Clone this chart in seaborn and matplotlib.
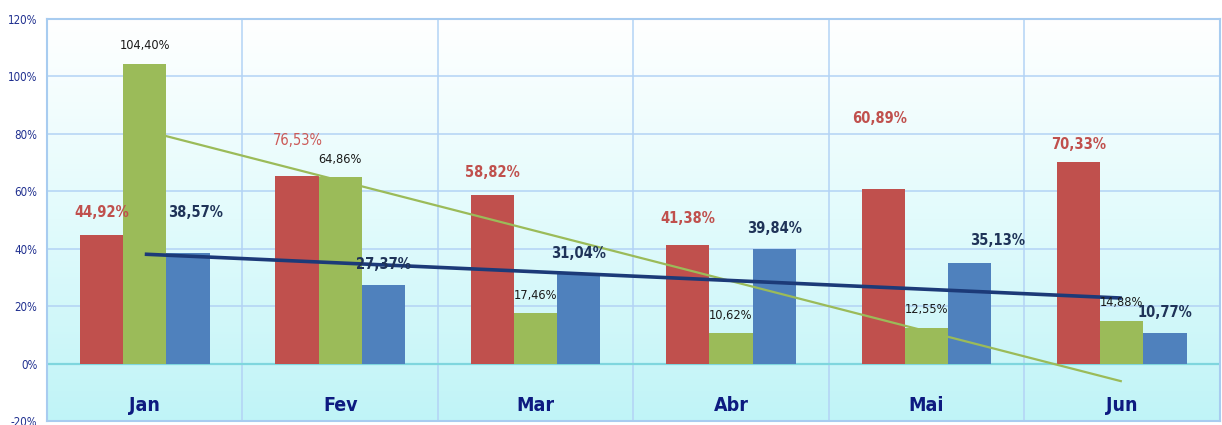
import numpy as np
import pandas as pd
import matplotlib
matplotlib.use("Agg")
import matplotlib.pyplot as plt
from matplotlib import font_manager as fm
from matplotlib.colors import LinearSegmentedColormap
import seaborn as sns

# Dados
months      = ["Jan", "Fev", "Mar", "Abr", "Mai", "Jun"]
series      = ["Vermelho", "Verde", "Azul"]
red_vals    = [44.92, 65.3, 58.82, 41.38, 60.89, 70.33]
green_vals  = [104.40, 64.86, 17.46, 10.62, 12.55, 14.88]
blue_vals   = [38.57, 27.37, 31.04, 39.84, 35.13, 10.77]
red_labels   = ["44,92%", "76,53%", "58,82%", "41,38%", "60,89%", "70,33%"]
green_labels = ["104,40%", "64,86%", "17,46%", "10,62%", "12,55%", "14,88%"]
blue_labels  = ["38,57%", "27,37%", "31,04%", "39,84%", "35,13%", "10,77%"]
y_ticks     = [-20, 0, 20, 40, 60, 80, 100, 120]

# Layout (deslocamentos dos rótulos em pixels)
RED_OFF   = [(0, 22), (1, 36), (0, 22), (0, 26), (-4, 70), (0, 17)]
GREEN_OFF = [(0, 18)] * 6
BLUE_OFF  = [(7, 40), (0, 20), (0, 21), (0, 21), (28, 22), (0, 20)]

COLORS = {"Vermelho": "#c0504d", "Verde": "#9bbb59", "Azul": "#4f81bd"}

# fonte estreita, se houver
names = {f.name for f in fm.fontManager.ttflist}
if "Liberation Sans Narrow" in names:
    plt.rcParams["font.family"] = ["Liberation Sans Narrow", "DejaVu Sans"]
else:
    plt.rcParams["font.family"] = ["DejaVu Sans"]
    plt.rcParams["font.stretch"] = "condensed"

df = pd.DataFrame({
    "mes":   months * 3,
    "serie": np.repeat(series, len(months)),
    "valor": red_vals + green_vals + blue_vals,
})

fig = plt.figure(figsize=(12.22, 4.25), dpi=100)
ax = fig.add_axes([0.0385, 0.0094, 0.9595, 0.9459])

# fundo em degradê
cmap = LinearSegmentedColormap.from_list("bg", ["#c0f4f7", "#e2fbfc", "#ffffff"])
grad = np.linspace(0, 1, 256).reshape(-1, 1)
ax.imshow(grad, extent=[-0.5, 5.5, -20, 120], origin="lower", aspect="auto",
          cmap=cmap, zorder=-2)

sns.barplot(data=df, x="mes", y="valor", hue="serie", palette=COLORS,
            width=0.664, saturation=1, linewidth=0, legend=False, ax=ax, zorder=2)

# linhas de tendência
xs = np.arange(len(months))
for vals, col, lw in [(green_vals, "#9bbb59", 1.6), (blue_vals, "#1c3a78", 2.6)]:
    k, b = np.polyfit(xs, vals, 1)
    ax.plot(xs, k * xs + b, color=col, lw=lw, zorder=3, solid_capstyle="butt")

# rótulos
label_sets = [
    (red_labels,   RED_OFF,   dict(color="#c0504d", fontsize=10.5, fontweight="bold")),
    (green_labels, GREEN_OFF, dict(color="#1a1a1a", fontsize=9.2)),
    (blue_labels,  BLUE_OFF,  dict(color="#1f3358", fontsize=10.5, fontweight="bold")),
]
for cont, (labels, offs, style) in zip(ax.containers, label_sets):
    for bar, lab, (dx, dy) in zip(cont, labels, offs):
        st = dict(style)
        if lab == "76,53%":
            st["fontweight"] = "normal"
            st["color"] = "#cc5a58"
        ax.annotate(lab, (bar.get_x() + bar.get_width() / 2, bar.get_height()),
                    xytext=(dx, dy), textcoords="offset pixels",
                    ha="center", va="center", zorder=4, **st)

# nomes dos meses dentro da faixa negativa
for i, m in enumerate(months):
    ax.text(i, -14.5, m, ha="center", va="center", fontsize=14,
            fontweight="bold", color="#0d1a80", zorder=4)

ax.set_xlim(-0.5, 5.5)
ax.set_ylim(-20, 120)
ax.set_yticks(y_ticks)
ax.set_yticklabels([f"{t}%" for t in y_ticks], fontsize=8.3, color="#1f2f8f")
ax.set_xticks(np.arange(-0.5, 6, 1))
ax.set_xticklabels([])
ax.tick_params(length=0)
ax.tick_params(axis="y", pad=7)
ax.set_xlabel(""); ax.set_ylabel("")

ax.set_axisbelow(True)
ax.grid(True, axis="both", color="#b3d3f5", lw=1.1)
ax.axhline(0, color="#7fd6de", lw=1.6, zorder=1)
for s in ax.spines.values():
    s.set_color("#a8ccf0"); s.set_linewidth(1.5)

fig.savefig("out.png", dpi=100)
